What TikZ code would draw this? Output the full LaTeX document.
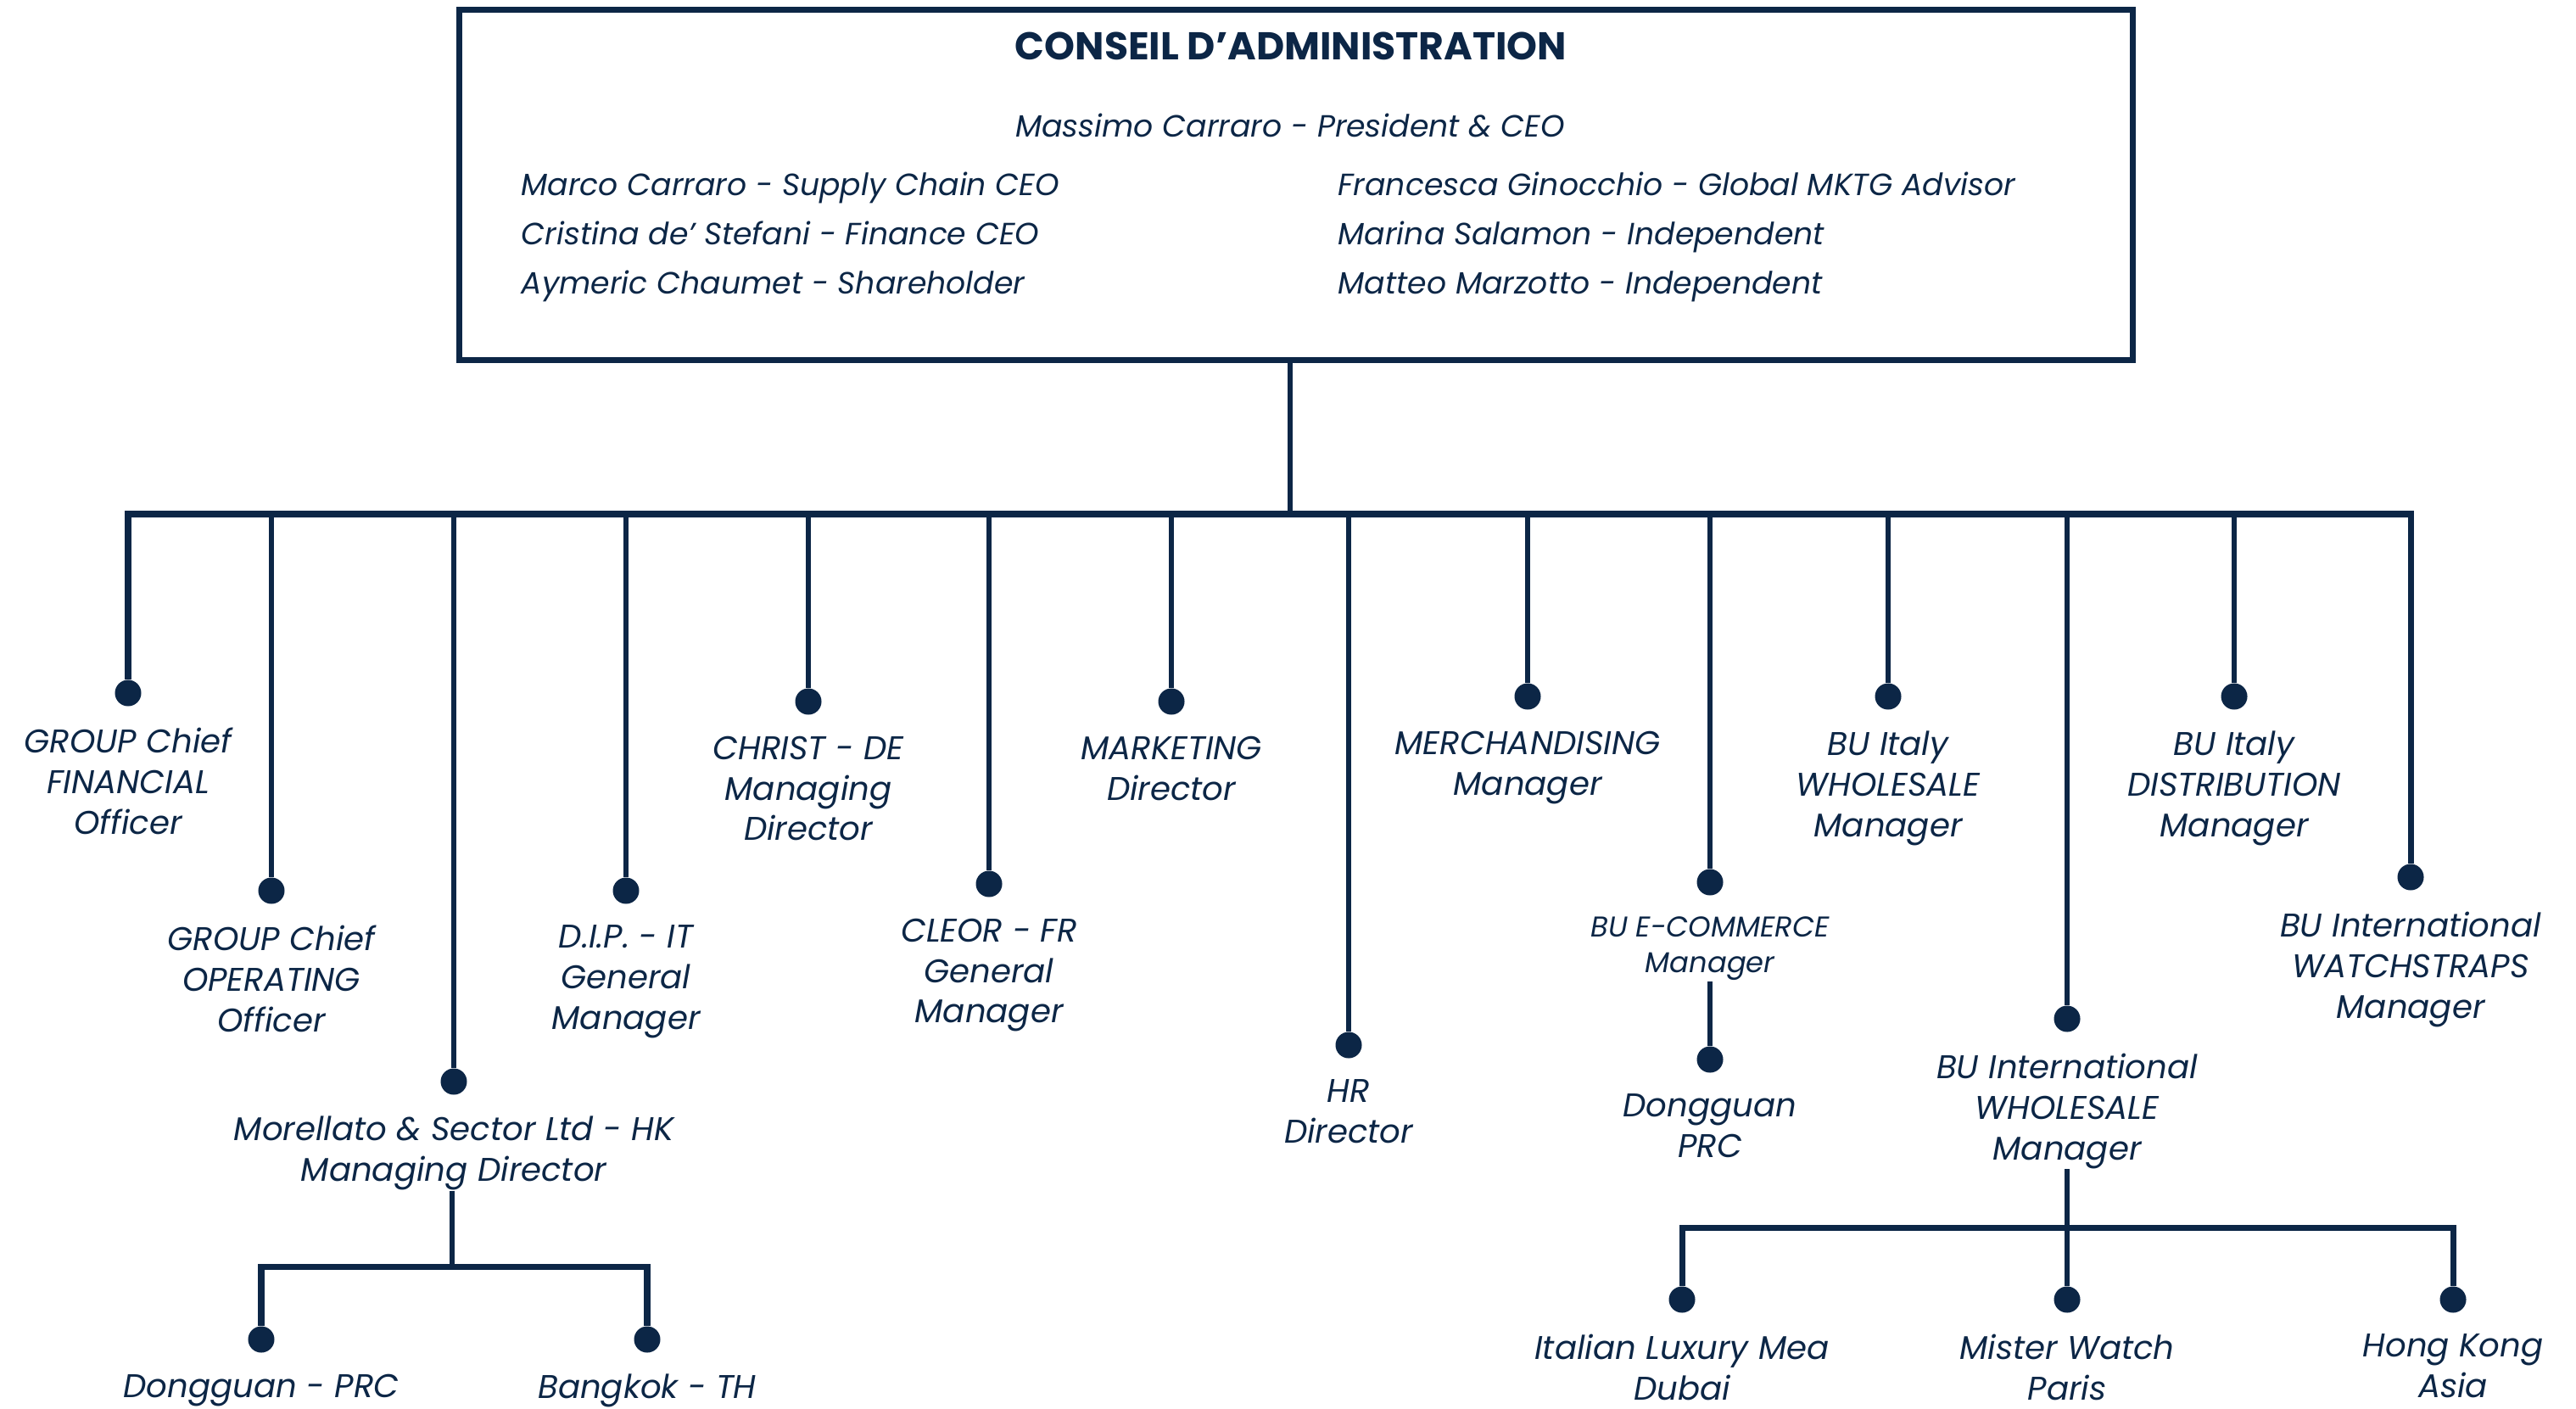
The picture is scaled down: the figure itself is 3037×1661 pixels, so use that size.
\documentclass[tikz,border=0pt]{standalone}
\usepackage{fontspec}
\setmainfont{Poppins}
\usetikzlibrary{calc}
\usetikzlibrary{positioning}
\definecolor{navy}{HTML}{0C2646}
\tikzset{every node/.style={align=center, text=navy, inner sep=0pt},
         role/.style={font=\itshape\fontsize{11}{13.6}\selectfont},
         small role/.style={font=\itshape\fontsize{9.6}{12}\selectfont},
         member/.style={font=\itshape\fontsize{10.3}{12}\selectfont, anchor=base west},
         dot/.style={circle, fill=navy, minimum size=0.31cm},
         link/.style={draw=navy, line width=1.6pt},
         bar/.style={draw=navy, line width=2pt}}

\begin{document}
\begin{tikzpicture}[x=0.01cm, y=-0.01cm]
  \useasboundingbox (0,0) rectangle (3037,1661);

  % board
  \node [draw=navy, line width=2pt, minimum width=19.72cm, minimum height=4.12cm] (board) at (1528,218) {};
  \node [font=\bfseries\fontsize{13}{15}\selectfont] (title) at (1522,54) {CONSEIL D'ADMINISTRATION};
  \node [member, anchor=base] (ceo) at (1521,162) {Massimo Carraro - President \& CEO};
  \node [member] (m1) at (614,231) {Marco Carraro - Supply Chain CEO};
  \node [member] (m2) at (614,289) {Cristina de' Stefani - Finance CEO};
  \node [member] (m3) at (614,347) {Aymeric Chaumet - Shareholder};
  \node [member] (m4) at (1577,231) {Francesca Ginocchio - Global MKTG Advisor};
  \node [member] (m5) at (1577,289) {Marina Salamon - Independent};
  \node [member] (m6) at (1577,347) {Matteo Marzotto - Independent};

  % first level
  \coordinate (bus) at (1521,606);
  \node [dot] (cfo)   at (151,817)  {};
  \node [dot] (coo)   at (320,1050) {};
  \node [dot] (hk)    at (535,1275) {};
  \node [dot] (dip)   at (738,1050) {};
  \node [dot] (christ) at (953,827) {};
  \node [dot] (cleor) at (1166,1042) {};
  \node [dot] (mktg)  at (1381,827) {};
  \node [dot] (hr)    at (1590,1232) {};
  \node [dot] (merch) at (1801,821) {};
  \node [dot] (ecom)  at (2016,1040) {};
  \node [dot] (itwh)  at (2226,821) {};
  \node [dot] (intwh) at (2437,1201) {};
  \node [dot] (itdis) at (2634,821) {};
  \node [dot] (strap) at (2842,1034) {};

  \node [role, below=0.24cm of cfo]    (cfo label)   {GROUP Chief\\FINANCIAL\\Officer};
  \node [role, below=0.24cm of coo]    (coo label)   {GROUP Chief\\OPERATING\\Officer};
  \node [role, below=0.24cm of hk]     (hk label)    {Morellato \& Sector Ltd - HK\\Managing Director};
  \node [role, below=0.24cm of dip]    (dip label)   {D.I.P. - IT\\General\\Manager};
  \node [role, below=0.24cm of christ] (christ label) {CHRIST - DE\\Managing\\Director};
  \node [role, below=0.24cm of cleor]  (cleor label) {CLEOR - FR\\General\\Manager};
  \node [role, below=0.24cm of mktg]   (mktg label)  {MARKETING\\Director};
  \node [role, below=0.24cm of hr]     (hr label)    {HR\\Director};
  \node [role, below=0.24cm of merch]  (merch label) {MERCHANDISING\\Manager};
  \node [small role, below=0.24cm of ecom] (ecom label) {BU E-COMMERCE\\Manager};
  \node [role, below=0.24cm of itwh]   (itwh label)  {BU Italy\\WHOLESALE\\Manager};
  \node [role, below=0.24cm of intwh]  (intwh label) {BU International\\WHOLESALE\\Manager};
  \node [role, below=0.24cm of itdis]  (itdis label) {BU Italy\\DISTRIBUTION\\Manager};
  \node [role, below=0.24cm of strap]  (strap label) {BU International\\WATCHSTRAPS\\Manager};

  \draw [link] (board.south -| bus) -- (bus);
  \draw [bar] (cfo) |- (bus) -| (strap);
  \foreach \n in {coo,hk,dip,christ,cleor,mktg,hr,merch,ecom,itwh,intwh,itdis}
    \draw [link] (\n) -- (\n |- bus);

  % second level
  \node [dot] (prc) at (2016,1249) {};
  \node [role, below=0.24cm of prc] (prc label) {Dongguan\\PRC};
  \draw [link] (ecom label) -- (prc);

  \coordinate (hk bus) at (533,1493);
  \node [dot] (dg) at (308,1579) {};
  \node [dot] (bk) at (763,1579) {};
  \node [role, below=0.24cm of dg] (dg label) {Dongguan - PRC};
  \node [role, below=0.24cm of bk] (bk label) {Bangkok - TH};
  \draw [link] (hk label.south -| hk bus) -- (hk bus);
  \draw [bar] (dg) |- (hk bus) -| (bk);

  \coordinate (wh bus) at (2437,1447);
  \node [dot] (dubai) at (1983,1532) {};
  \node [dot] (paris) at (2437,1532) {};
  \node [dot] (asia)  at (2892,1532) {};
  \node [role, below=0.24cm of dubai] (dubai label) {Italian Luxury Mea\\Dubai};
  \node [role, below=0.24cm of paris] (paris label) {Mister Watch\\Paris};
  \node [role, below=0.24cm of asia]  (asia label)  {Hong Kong\\Asia};
  \draw [link] (intwh label) -- (paris);
  \draw [bar] (dubai) |- (wh bus) -| (asia);
\end{tikzpicture}
\end{document}
